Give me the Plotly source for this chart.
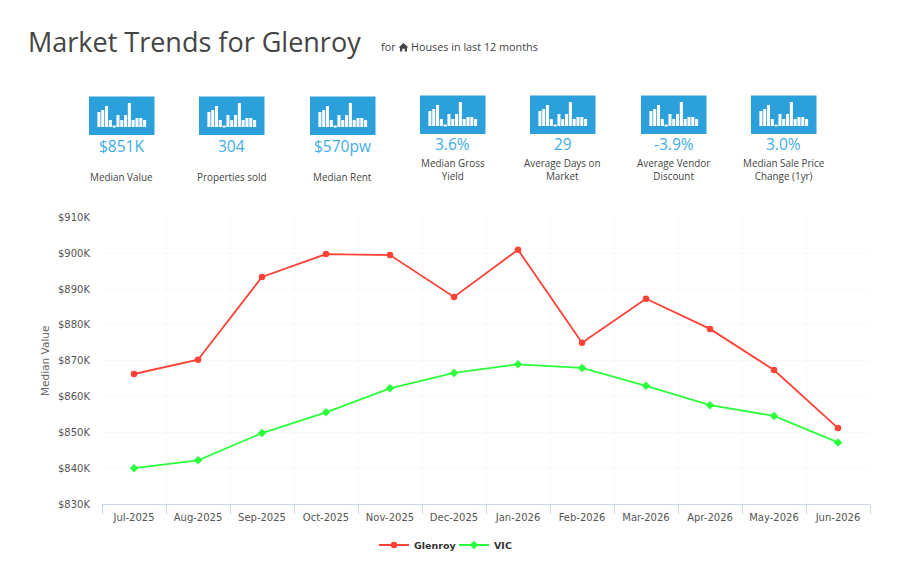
import plotly.graph_objects as go

W, H = 916, 579
months = ["Jul-2025", "Aug-2025", "Sep-2025", "Oct-2025", "Nov-2025", "Dec-2025",
          "Jan-2026", "Feb-2026", "Mar-2026", "Apr-2026", "May-2026", "Jun-2026"]
glenroy = [866.3, 870.3, 893.4, 899.8, 899.5, 887.8, 901.0, 875.0, 887.3, 878.9, 867.4, 851.2]
vic = [840.0, 842.2, 849.8, 855.6, 862.3, 866.6, 869.0, 868.0, 863.0, 857.6, 854.6, 847.2]

kpi_values = ["$851K", "304", "$570pw", "3.6%", "29", "-3.9%", "3.0%"]
kpi_labels = ["Median Value", "Properties sold", "Median Rent", "Median Gross<br>Yield",
              "Average Days on<br>Market", "Average Vendor<br>Discount",
              "Median Sale Price<br>Change (1yr)"]
icon_bars = [15, 17, 21, 7, 1, 12, 7, 12, 24, 7, 9, 9, 7]
icon_cats = list(range(len(icon_bars)))

icon_left = [89, 199, 310, 420, 530, 641, 751]
icon_top = [96.5, 96.5, 96.5, 95.5, 95.5, 95.5, 95.5]
ICON_W, ICON_H = 65.5, 38.5

BLUE = "#2ba0da"
VALUE_BLUE = "#3fade6"
TEXT = "#444444"
UI_FONT = "Open Sans"
CHART_FONT = "DejaVu Sans"
MT, MB = 10, 10


def px(x):
    return x / W


def py(y):
    return 1 - (y - MT) / (H - MT - MB)


fig = go.Figure()
fig.add_trace(go.Scatter(x=months, y=glenroy, name="Glenroy", mode="lines+markers",
                         line=dict(color="#ff4136", width=1.8),
                         marker=dict(symbol="circle", size=6.5, color="#ff4136")))
fig.add_trace(go.Scatter(x=months, y=vic, name="VIC", mode="lines+markers",
                         line=dict(color="#2bff3c", width=1.8),
                         marker=dict(symbol="diamond", size=6.5, color="#2bff3c")))

layout = dict(
    width=W, height=H, autosize=False,
    margin=dict(l=0, r=0, t=MT, b=MB),
    paper_bgcolor="white", plot_bgcolor="rgba(0,0,0,0)",
    hovermode=False,
    bargap=0.2,
    font=dict(family=CHART_FONT, color="#555555", size=10),
    xaxis=dict(domain=[px(102), px(870)], anchor="y", type="category",
               range=[-0.5, 11.5], tickson="boundaries", ticks="outside", ticklen=9,
               tickwidth=1, tickcolor="#ccd6eb", showline=True, linecolor="#ccd6eb",
               linewidth=1, showgrid=True, gridcolor="#f9f9f9", gridwidth=1,
               ticklabelstandoff=4,
               tickfont=dict(family=CHART_FONT, size=10, color="#555555"), zeroline=False),
    yaxis=dict(domain=[py(504), py(217.5)], anchor="x", range=[830, 910], dtick=10,
               tickprefix="$", ticksuffix="K", tickformat="d", showgrid=True,
               gridcolor="#f9f9f9", gridwidth=1, zeroline=False, showline=False,
               ticks="outside", ticklen=9, tickcolor="rgba(0,0,0,0)",
               tickfont=dict(family=CHART_FONT, size=10, color="#555555"),
               title=dict(text="Median Value", standoff=6,
                          font=dict(family=CHART_FONT, size=10.5, color="#666666"))),
    legend=dict(orientation="h", x=px(374), xanchor="left", y=py(545), yanchor="middle",
                entrywidth=35, entrywidthmode="pixels",
                font=dict(family=CHART_FONT, size=9.5, color="#333333", weight="bold"),
                bgcolor="rgba(0,0,0,0)"),
    showlegend=True,
)

shapes = []
annotations = []

for i, (left, top) in enumerate(zip(icon_left, icon_top)):
    n = i + 2
    xname, yname = f"x{n}", f"y{n}"
    fig.add_trace(go.Bar(x=icon_cats, y=icon_bars, xaxis=xname, yaxis=yname,
                         marker=dict(color="white", line=dict(width=0)), showlegend=False))
    layout[f"xaxis{n}"] = dict(domain=[px(left), px(left + ICON_W)], anchor=yname,
                               range=[-2.6, 14.6], visible=False, fixedrange=True)
    layout[f"yaxis{n}"] = dict(domain=[py(top + ICON_H), py(top)], anchor=xname,
                               range=[-8, 30.5], visible=False, fixedrange=True)
    shapes.append(dict(type="rect", xref=f"{xname} domain", yref=f"{yname} domain",
                       x0=0, x1=1, y0=0, y1=1, fillcolor=BLUE, line=dict(width=0), layer="below"))
    cx = left + ICON_W / 2
    annotations.append(dict(text=kpi_values[i], x=px(cx), y=py(top + 49), xref="paper", yref="paper",
                            showarrow=False, xanchor="center", yanchor="middle",
                            font=dict(family=UI_FONT, size=15.5, color=VALUE_BLUE)))
    two_line = "<br>" in kpi_labels[i]
    annotations.append(dict(text=kpi_labels[i], x=px(cx), y=py(169.7 if two_line else 177),
                            xref="paper", yref="paper",
                            showarrow=False, xanchor="center", yanchor="middle",
                            font=dict(family=UI_FONT, size=9.9, color=TEXT)))

annotations.append(dict(text="Market Trends for Glenroy", x=px(25.5), y=py(41), xref="paper", yref="paper",
                        showarrow=False, xanchor="left", yanchor="middle",
                        font=dict(family=UI_FONT, size=27, color=TEXT)))
annotations.append(dict(text="for", x=px(378.5), y=py(47), xref="paper", yref="paper",
                        showarrow=False, xanchor="left", yanchor="middle",
                        font=dict(family=UI_FONT, size=10.8, color=TEXT)))
annotations.append(dict(text="Houses in last 12 months", x=px(409), y=py(47), xref="paper", yref="paper",
                        showarrow=False, xanchor="left", yanchor="middle",
                        font=dict(family=UI_FONT, size=10.8, color=TEXT)))

# small house glyph beside the subtitle
pts = [(403.5, 43), (408.5, 47.5), (407, 47.5), (407, 51.5), (404.8, 51.5), (404.8, 48.8),
       (402.2, 48.8), (402.2, 51.5), (400, 51.5), (400, 47.5), (398.5, 47.5)]
path = "M " + " L ".join(f"{px(a):.5f},{py(b):.5f}" for a, b in pts) + " Z"
shapes.append(dict(type="path", xref="paper", yref="paper", path=path,
                   fillcolor=TEXT, line=dict(width=0)))

layout["shapes"] = shapes
layout["annotations"] = annotations
fig.update_layout(**layout)

fig.write_html("out.html", config=dict(displayModeBar=False),
               post_script="document.body.style.margin='0';")
